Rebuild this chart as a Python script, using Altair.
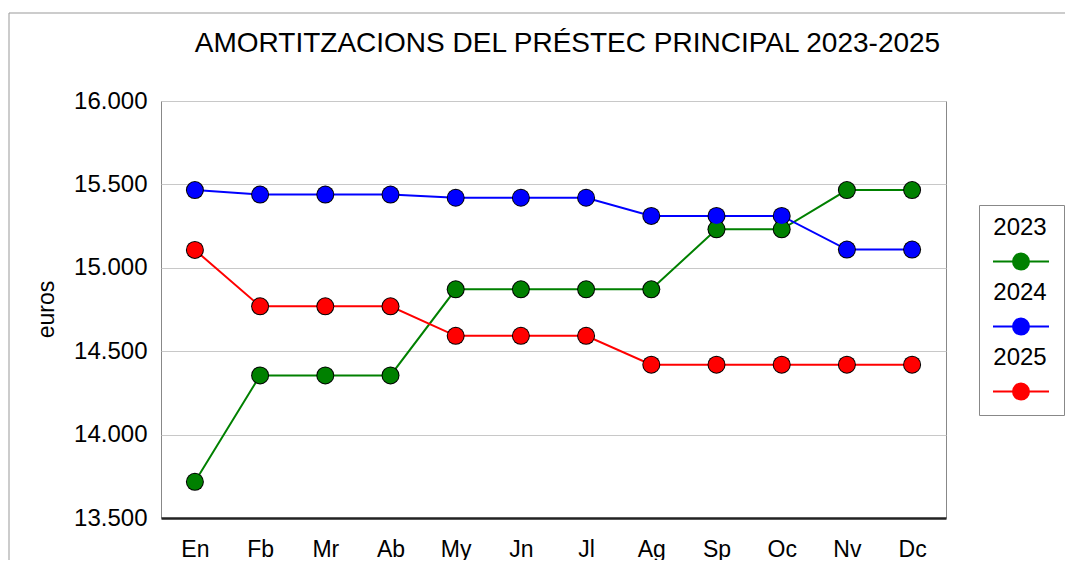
import altair as alt
import pandas as pd

months = ["En", "Fb", "Mr", "Ab", "My", "Jn", "Jl", "Ag", "Sp", "Oc", "Nv", "Dc"]
years = ["2023", "2024", "2025"]
v2023 = [13717, 14355, 14355, 14355, 14871, 14871, 14871, 14871, 15231, 15231, 15466, 15466]
v2024 = [15466, 15439, 15439, 15439, 15420, 15420, 15420, 15311, 15311, 15311, 15109, 15109]
v2025 = [15107, 14769, 14769, 14769, 14592, 14592, 14592, 14419, 14419, 14419, 14419, 14419]
colors = ["#008000", "#0000ff", "#ff0000"]
yticks = [13500, 14000, 14500, 15000, 15500, 16000]
title_text = "AMORTITZACIONS DEL PRÉSTEC PRINCIPAL 2023-2025"

rows = []
for yr, vals in zip(years, [v2023, v2024, v2025]):
    for m, v in zip(months, vals):
        rows.append({"mes": m, "any": yr, "euros": v})
df = pd.DataFrame(rows)

FONT = "Liberation Sans"
# legend symbol: a short line with a circle, drawn below the label
sym = "M-3.5,4.2L3.5,4.2M1,4.2A1,1,0,1,1,-1,4.2A1,1,0,1,1,1,4.2Z"

x = alt.X(
    "mes:N", sort=months,
    scale=alt.Scale(type="point", padding=0.52),
    axis=alt.Axis(title=None, labelAngle=0, ticks=False, labelPadding=20,
                  labelFontSize=23, grid=False, domainColor="#222", domainWidth=2.5,
                  labelColor="black"),
)
y = alt.Y(
    "euros:Q",
    scale=alt.Scale(domain=[13500, 16000], nice=False, zero=False),
    axis=alt.Axis(values=yticks, title="euros",
                  labelExpr="replace(format(datum.value, ','), ',', '.')",
                  ticks=False, labelPadding=14, labelFontSize=24, domain=False,
                  gridColor="#c8c8c8", titleFontSize=23, titleFontWeight="normal",
                  titleX=-108, titleY=208, titleBaseline="alphabetic", titleAlign="center",
                  labelColor="black", titleColor="black"),
)
color = alt.Color(
    "any:N",
    scale=alt.Scale(domain=years, range=colors),
    legend=alt.Legend(title=None, orient="none", legendX=818, legendY=104,
                      symbolType=sym, symbolSize=256, symbolStrokeWidth=2,
                      symbolOffset=19, labelOffset={"expr": "-13"}, labelAlign="center",
                      labelFontSize=24, labelColor="black", padding=11, rowPadding=7,
                      strokeColor="#888", fillColor="white"),
)

base = alt.Chart(df)
line = base.mark_line(strokeWidth=2).encode(x=x, y=y, color=color)
rim = base.mark_circle(color="black", size=324, opacity=1).encode(x=x, y=y, detail="any:N")
dots = base.mark_circle(size=256, opacity=1).encode(x=x, y=y, color=color)

frame = alt.Chart(pd.DataFrame({"k": [0]})).mark_rect(
    fillOpacity=0, stroke="#999", strokeWidth=1
).encode(x=alt.value(-152), x2=alt.value(960), y=alt.value(-88), y2=alt.value(560))

chart = alt.layer(frame, line, rim, dots).properties(
    width=785, height=417,
    title=alt.Title(title_text, font=FONT, fontSize=28, fontWeight="normal",
                    anchor="middle", dx=14, dy=67, offset=0, baseline="alphabetic",
                    color="black"),
    autosize=alt.AutoSizeParams(type="none"),
    padding={"left": 153, "top": 93, "right": 119, "bottom": 42},
).configure(font=FONT).configure_view(stroke="#888", strokeWidth=1)

chart.save("out.html", embed_options={"renderer": "svg", "actions": False})
